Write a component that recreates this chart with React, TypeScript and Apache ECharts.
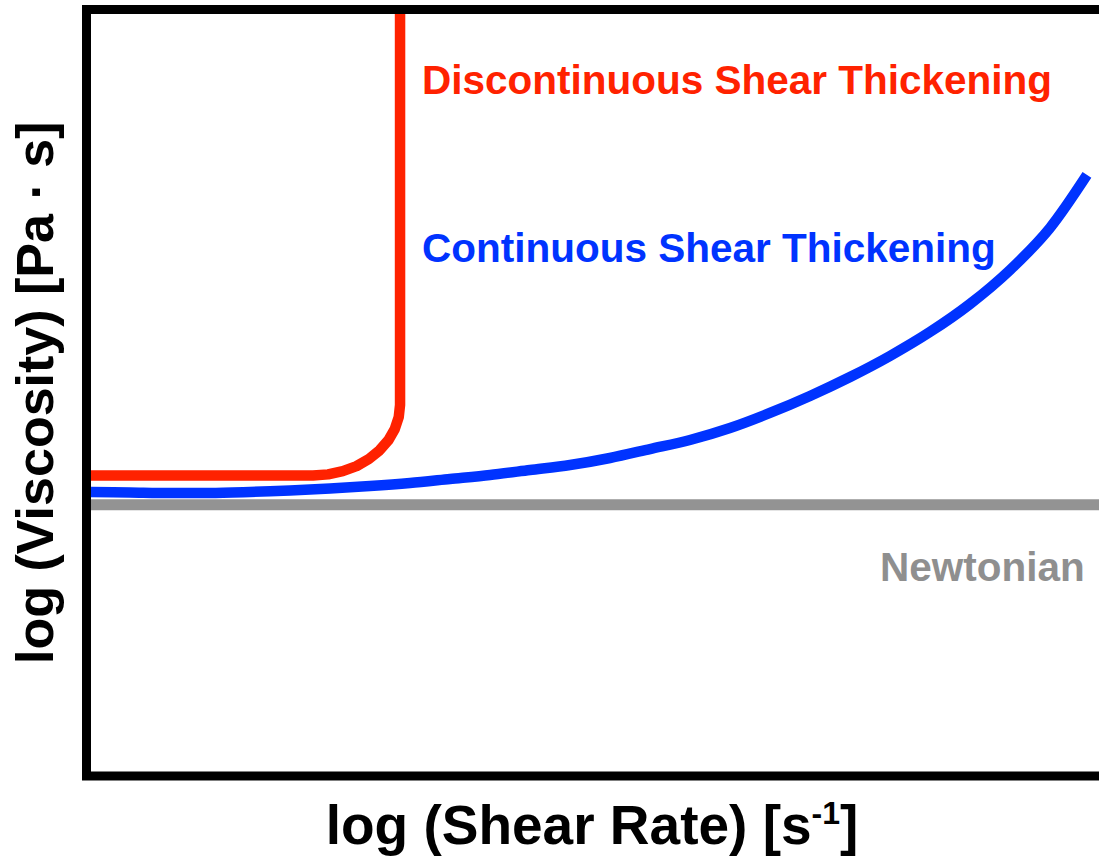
import React, { useEffect, useRef } from "react";
import * as echarts from "echarts";

// log(shear rate) positions (arbitrary log units, 0..10) and log(viscosity) values (0..10)
const newtonianX = [0.044, 10];
const newtonianY = [3.54, 3.54];

const continuousX = [
  0.044, 0.427, 0.819, 1.212, 1.604, 1.997, 2.39, 2.782, 3.175, 3.567, 3.96, 4.352, 4.745,
  5.137, 5.53, 5.922, 6.315, 6.707, 7.1, 7.493, 7.885, 8.278, 8.67, 9.063, 9.455, 9.818,
];
const continuousY = [
  3.705, 3.699, 3.692, 3.692, 3.705, 3.725, 3.751, 3.783, 3.823, 3.875, 3.927, 3.992, 4.057,
  4.149, 4.266, 4.384, 4.54, 4.736, 4.958, 5.205, 5.48, 5.793, 6.158, 6.602, 7.15, 7.841,
];

const discontinuousX = [0.044, 2.223, 2.371, 2.515, 2.65, 2.771, 2.876, 2.962, 3.025, 3.064, 3.077, 3.077];
const discontinuousY = [3.92, 3.92, 3.935, 3.977, 4.043, 4.136, 4.249, 4.38, 4.526, 4.681, 4.84, 9.94];

const labels = {
  dst: "Discontinuous Shear Thickening",
  cst: "Continuous Shear Thickening",
  newt: "Newtonian",
};

const RED = "#ff2200";
const BLUE = "#0033ff";
const GRAY = "#939393";
const FONT = "'Liberation Sans', Arial, sans-serif";

const zip = (xs: number[], ys: number[]) => xs.map((x, i) => [x, ys[i]]);

export default function App() {
  const ref = useRef<HTMLDivElement>(null);
  useEffect(() => {
    if (!ref.current) return;
    const chart = echarts.init(ref.current, null, { renderer: "svg" });
    chart.setOption({
      animation: false,
      backgroundColor: "#fff",
      grid: {
        show: true,
        left: 86.5,
        right: -6.5,
        top: 9.5,
        bottom: 83,
        borderColor: "#000",
        borderWidth: 9,
        backgroundColor: "transparent",
        containLabel: false,
        outerBoundsMode: "none",
      },
      xAxis: {
        type: "value",
        min: 0,
        max: 10,
        axisLine: { show: false },
        axisTick: { show: false },
        axisLabel: { show: false },
        splitLine: { show: false },
        name: "log (Shear Rate) [s{sup|-1}]",
        nameLocation: "middle",
        nameGap: 21,
        nameTextStyle: {
          fontSize: 55,
          fontWeight: "bold",
          color: "#000",
          fontFamily: FONT,
          padding: [0, 8, 0, 0],
          rich: {
            sup: { fontSize: 32, fontWeight: "bold", color: "#000", fontFamily: FONT, verticalAlign: "top" },
          },
        },
      },
      yAxis: {
        type: "value",
        min: 0,
        max: 10,
        axisLine: { show: false },
        axisTick: { show: false },
        axisLabel: { show: false },
        splitLine: { show: false },
        name: "log (Viscosity) [Pa · s]",
        nameLocation: "middle",
        nameRotate: 90,
        nameGap: 26,
        nameTextStyle: { fontSize: 52, fontWeight: "bold", color: "#000", fontFamily: FONT },
      },
      series: [
        {
          name: "Newtonian",
          type: "line",
          data: zip(newtonianX, newtonianY),
          showSymbol: false,
          lineStyle: { color: GRAY, width: 11, cap: "butt" },
          z: 2,
        },
        {
          name: "Continuous",
          type: "line",
          data: zip(continuousX, continuousY),
          showSymbol: false,
          smooth: 0.3,
          lineStyle: { color: BLUE, width: 10.5, cap: "butt", join: "round" },
          z: 3,
        },
        {
          name: "Discontinuous",
          type: "line",
          data: zip(discontinuousX, discontinuousY),
          showSymbol: false,
          lineStyle: { color: RED, width: 10.5, cap: "butt", join: "round" },
          z: 4,
        },
      ],
      graphic: [
        {
          type: "text",
          x: 422,
          y: 80,
          style: { text: labels.dst, fill: RED, fontSize: 40.5, fontWeight: "bold", fontFamily: FONT, align: "left", verticalAlign: "middle" },
        },
        {
          type: "text",
          x: 422,
          y: 248,
          style: { text: labels.cst, fill: BLUE, fontSize: 40.5, fontWeight: "bold", fontFamily: FONT, align: "left", verticalAlign: "middle" },
        },
        {
          type: "text",
          x: 880,
          y: 567,
          style: { text: labels.newt, fill: "#8f8f8f", fontSize: 40.5, fontWeight: "bold", fontFamily: FONT, align: "left", verticalAlign: "middle" },
        },
      ],
    });
    return () => chart.dispose();
  }, []);
  return <div ref={ref} style={{ position: "absolute", left: 0, top: 0, width: 1099, height: 859 }} />;
}
